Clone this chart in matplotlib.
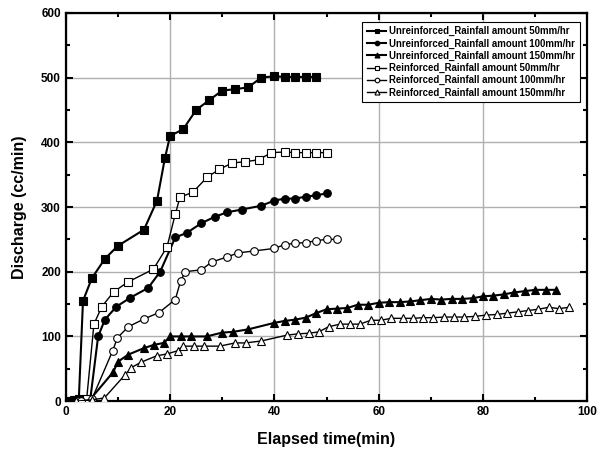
import matplotlib.pyplot as plt
from matplotlib.ticker import MultipleLocator

plt.rcParams['font.family'] = ['Liberation Sans', 'DejaVu Sans']
plt.rcParams['font.weight'] = 'bold'

# Unreinforced, 50 mm/hr
u50_x = [0.5, 1.5, 2.5, 3.3, 5, 7.5, 10, 15, 17.5, 19, 20, 22.5, 25, 27.5, 30, 32.5,
         35, 37.5, 40, 42, 44, 46, 48]
u50_y = [0, 2, 3, 155, 190, 220, 240, 265, 310, 375, 410, 420, 450, 465, 480, 482,
         485, 500, 502, 501, 501, 501, 501]

# Unreinforced, 100 mm/hr
u100_x = [1.5, 2.5, 3.3, 4.7, 6.2, 7.5, 9.7, 12.4, 15.8, 18.1, 21, 23.2, 26, 28.6, 31,
          33.7, 37.5, 40, 42, 44, 46, 48, 50]
u100_y = [0, 2, 3, 3, 100, 126, 146, 160, 175, 200, 253, 260, 275, 285, 292,
          296, 302, 310, 313, 313, 316, 318, 321]

# Unreinforced, 150 mm/hr
u150_x = [2, 4.7, 9.1, 10, 12, 15, 16.9, 18.8, 20, 22, 24, 27, 30, 32, 35,
          40, 42, 44, 46, 48, 50, 52, 54, 56, 58, 60, 62, 64, 66, 68, 70, 72, 74,
          76, 78, 80, 82, 84, 86, 88, 90, 92, 94]
u150_y = [0, 3, 45, 61, 72, 82, 87, 90, 100, 100, 100, 100, 106, 107, 111,
          121, 124, 126, 129, 136, 142, 143, 144, 149, 149, 152, 153, 153, 154, 156,
          158, 157, 158, 158, 159, 162, 163, 165, 168, 170, 172, 172, 172]

# Reinforced, 50 mm/hr
r50_x = [2.5, 4, 5.4, 6.9, 9.2, 11.9, 16.8, 19.4, 21, 21.9, 24.4, 27.1, 29.4, 31.9,
         34.4, 37, 39.4, 42, 44, 46, 48, 50]
r50_y = [0, 3, 119, 146, 169, 184, 204, 238, 289, 315, 323, 346, 358, 368,
         370, 373, 384, 385, 384, 384, 384, 384]

# Reinforced, 100 mm/hr
r100_x = [3, 5, 9, 9.9, 12, 15, 17.9, 21, 22, 22.9, 26, 28, 31, 33, 36, 40, 42, 44,
          46, 48, 50, 52]
r100_y = [0, 3, 78, 98, 115, 127, 137, 157, 185, 200, 203, 215, 223, 229, 232, 236,
          242, 244, 245, 248, 250, 250]

# Reinforced, 150 mm/hr
r150_x = [2, 5, 7.4, 11.4, 12.6, 14.4, 17.4, 19.4, 21.5, 22.4, 24.5, 26.5, 29.5,
          32.5, 34.5, 37.5, 42.4, 44.5, 46.6, 48.5, 50.4, 52.6, 54.5, 56.4, 58.5,
          60.4, 62.4, 64.6, 66.5, 68.5, 70.5, 72.6, 74.5, 76.4, 78.5, 80.6, 82.7,
          84.6, 86.7, 88.6, 90.6, 92.6, 94.6, 96.5]
r150_y = [0, 2, 5, 41, 52, 60, 70, 73, 78, 85, 85, 85, 85,
          90, 90, 93, 102, 104, 105, 107, 115, 119, 119, 119, 125,
          125, 128, 128, 128, 129, 129, 130, 130, 130, 131, 133, 134,
          136, 138, 140, 142, 145, 143, 145]

labels = ['Unreinforced_Rainfall amount 50mm/hr',
          'Unreinforced_Rainfall amount 100mm/hr',
          'Unreinforced_Rainfall amount 150mm/hr',
          'Reinforced_Rainfall amount 50mm/hr',
          'Reinforced_Rainfall amount 100mm/hr',
          'Reinforced_Rainfall amount 150mm/hr']

fig = plt.figure(figsize=(5.98, 4.59), dpi=100)
ax = fig.add_axes([0.110, 0.126, 0.872, 0.846])

series = [
    (u50_x, u50_y, 's', 'black', 5.3, 1.5),
    (u100_x, u100_y, 'o', 'black', 5.5, 1.5),
    (u150_x, u150_y, '^', 'black', 6.0, 1.5),
    (r50_x, r50_y, 's', 'white', 5.3, 1.0),
    (r100_x, r100_y, 'o', 'white', 5.5, 1.0),
    (r150_x, r150_y, '^', 'white', 6.0, 1.0),
]
for (x, y, m, fc, ms, lw), lab in zip(series, labels):
    ax.plot(x, y, color='black', lw=lw, marker=m, markersize=ms,
            markerfacecolor=fc, markeredgecolor='black', markeredgewidth=0.8,
            label=lab, zorder=3)

ax.set_xlim(0, 100)
ax.set_ylim(0, 600)
ax.xaxis.set_major_locator(MultipleLocator(20))
ax.xaxis.set_minor_locator(MultipleLocator(10))
ax.yaxis.set_major_locator(MultipleLocator(100))
ax.yaxis.set_minor_locator(MultipleLocator(50))
ax.grid(True, which='major', color='#b0b0b0', lw=1.0, zorder=0)
ax.tick_params(which='both', direction='in', top=True, right=True,
               labelsize=8.5, width=1.5)
ax.tick_params(which='major', length=5)
ax.tick_params(which='minor', length=3)
for lbl in ax.get_xticklabels() + ax.get_yticklabels():
    lbl.set_fontweight('bold')
for s in ax.spines.values():
    s.set_linewidth(1.6)

ax.set_xlabel('Elapsed time(min)', fontsize=11.5, fontweight='bold', labelpad=10)
ax.set_ylabel('Discharge (cc/min)', fontsize=11.5, fontweight='bold', labelpad=10)

leg = ax.legend(loc='upper right', bbox_to_anchor=(0.995, 0.99), fontsize=6.9,
                frameon=True, fancybox=False, edgecolor='black', framealpha=1,
                handlelength=2.0, handletextpad=0.3, labelspacing=0.22,
                borderpad=0.5, markerscale=0.6)
leg.get_frame().set_linewidth(0.8)
for t in leg.get_texts():
    t.set_fontweight('bold')

fig.savefig('out.png', dpi=100)
